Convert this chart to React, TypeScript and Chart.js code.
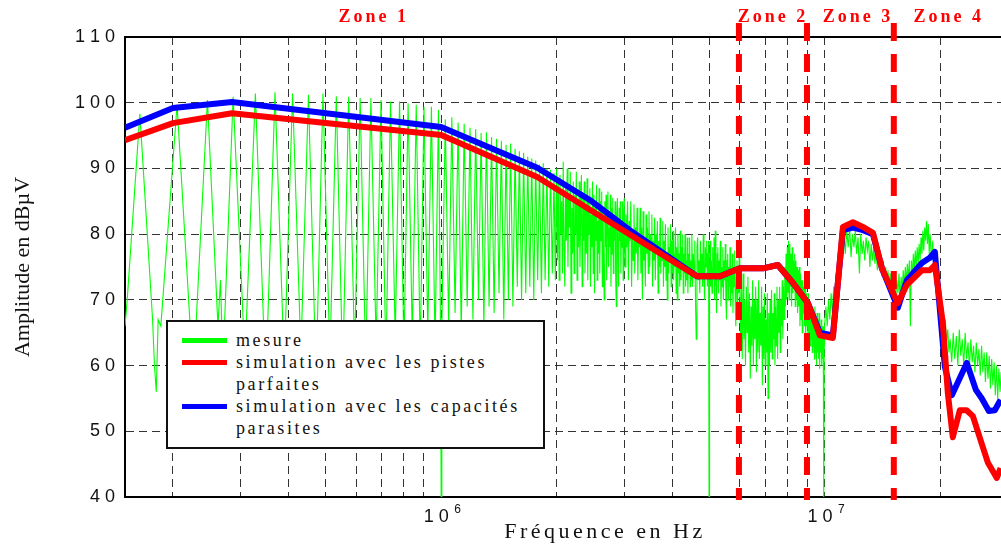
import React, { useEffect, useRef } from 'react';
import { Chart, registerables } from 'chart.js';

Chart.register(...registerables);

// ---------- texts ----------
const seriesNames = [
  'mesure',
  'simulation avec les pistes parfaites',
  'simulation avec les capacités parasites',
];
const legendLines = [
  ['mesure'],
  ['simulation avec les pistes', 'parfaites'],
  ['simulation avec les capacités', 'parasites'],
];
const seriesColors = ['#00ff00', '#ff0000', '#0000ff'];
const xTitle = 'Fréquence en Hz';
const yTitle = 'Amplitude en dBµV';

// ---------- axes ----------
const yMin = 40;
const yMax = 110;
const yStep = 10;
const xMinHz = 150e3;
const xMaxHz = 30e6;
const gridHz = [2e5, 3e5, 4e5, 5e5, 6e5, 7e5, 8e5, 9e5, 1e6, 2e6, 3e6, 4e6, 5e6, 6e6, 7e6, 8e6, 9e6, 1e7, 2e7];
const xLabelHz = [1e6, 1e7];
const xLabelBase = ['1 0  ', '1 0  '];
const xLabelExp = ['6', '7'];

// ---------- zones ----------
const zoneNames = ['Zone 1', 'Zone 2', 'Zone 3', 'Zone 4'];
const zoneLabelHz = [661e3, 7.26e6, 12.08e6, 20.84e6];
const zoneBoundsHz = [5.97e6, 8.98e6, 15.12e6];

// ---------- simulation: pistes parfaites (MHz, dBµV) ----------
const parfaitesMHz = [0.15, 0.2, 0.285, 1.0, 1.78, 4.64, 5.33, 6.0, 6.9, 7.54, 8.25, 9.03, 9.7, 10.49, 11.14, 11.83, 12.56, 13.34, 14.08, 15.49, 16.35, 17.89, 18.77, 19.34, 20.29, 20.91, 21.54, 22.47, 23.4, 24.3, 25.3, 26.6, 28.05, 28.7];
const parfaitesDb = [94.3, 96.9, 98.4, 95.1, 88.7, 73.6, 73.6, 74.8, 74.8, 75.3, 72.6, 69.5, 64.6, 64.2, 81.1, 81.8, 81.1, 80.2, 74.8, 69.5, 72.3, 74.5, 74.5, 75.3, 66.5, 55.8, 49.1, 53.2, 53.2, 52.3, 49.1, 45.2, 42.9, 44.4];

// ---------- simulation: capacités parasites (MHz, dBµV) ----------
const parasitesMHz = [0.15, 0.2, 0.285, 1.0, 1.78, 2.44, 3.1, 4.64, 5.33, 6.0, 6.9, 7.54, 8.25, 9.03, 9.7, 10.49, 11.14, 11.83, 12.56, 13.34, 14.08, 15.49, 16.35, 17.89, 18.77, 19.34, 20.54, 21.42, 23.43, 24.74, 25.64, 26.74, 27.72, 28.7];
const parasitesDb = [96.2, 99.2, 100.1, 96.3, 90.1, 85.2, 80.6, 73.6, 73.6, 74.8, 74.8, 75.3, 72.6, 69.5, 65.0, 64.6, 80.6, 81.0, 80.6, 80.0, 74.8, 68.8, 73.0, 75.6, 76.4, 77.3, 59.8, 55.5, 60.4, 56.3, 55.0, 53.1, 53.2, 54.8];

// ---------- mesure (kHz, dBµV) ----------
const mesure: [number, number][] = [
  // 150 kHz - 1 MHz
  [150, 66], [152, 70], [164, 98.3], [177, 67], [179, 60], [181, 56], [183, 67], [186, 66], [205, 99.7], [226, 58],
  [246, 100.4], [262, 66], [266, 73], [270, 60], [287, 100.9], [308, 61], [328, 101.4], [349, 57], [369, 101.6], [390, 60],
  [410, 101.4], [431, 62], [451, 101.2], [472, 58], [492, 101.4], [513, 61], [533, 101], [554, 59], [574, 100.9], [595, 62],
  [615, 100.7], [636, 60], [656, 100.7], [677, 63], [697, 100.4], [718, 61], [738, 100.2], [759, 64], [779, 100.2], [800, 62],
  [820, 99.9], [841, 64], [861, 99.7], [882, 62], [902, 99.4], [923, 65], [943, 99.4], [964, 63], [984, 98.9], [996, 66],
  [1000, 40], [1004, 66],
  // 1 - 2 MHz
  [1025, 97.5], [1046, 66], [1066, 97.8], [1087, 68], [1107, 97], [1128, 65], [1148, 96.8], [1169, 69], [1189, 96.2], [1210, 67],
  [1230, 96], [1251, 70], [1271, 95.4], [1292, 66], [1312, 95.5], [1333, 69], [1353, 94.8], [1374, 68], [1394, 94.5], [1415, 71],
  [1435, 94.2], [1456, 67], [1476, 93.6], [1497, 70], [1517, 93.8], [1538, 69], [1558, 93], [1579, 72], [1599, 92.6], [1620, 70],
  [1640, 92.4], [1661, 71], [1681, 91.8], [1702, 72], [1722, 91.5], [1743, 70], [1763, 91.2], [1784, 73], [1804, 90.6], [1825, 71],
  [1845, 90.8], [1866, 73], [1886, 90], [1907, 72], [1927, 89.8], [1948, 74], [1968, 89.3], [1984, 73],
  // 2 - 3 MHz
  [2000, 90], [2010, 76], [2020, 88], [2030, 73], [2040, 89], [2050, 80], [2060, 85], [2070, 74], [2080, 91], [2090, 78],
  [2100, 72], [2110, 87], [2120, 79], [2130, 90], [2140, 75], [2150, 86], [2160, 81], [2170, 89.5], [2180, 71], [2190, 84],
  [2200, 77], [2210, 88], [2220, 74], [2230, 86], [2240, 80], [2250, 89.5], [2260, 73], [2270, 85], [2280, 78], [2290, 88],
  [2300, 75], [2310, 83], [2320, 89], [2330, 72], [2340, 86], [2350, 79], [2360, 88], [2370, 74], [2380, 84], [2390, 77],
  [2400, 88.5], [2410, 73], [2420, 85], [2430, 80], [2440, 87], [2450, 72], [2460, 83], [2470, 78], [2480, 88], [2490, 74],
  [2500, 86], [2510, 71], [2520, 84], [2530, 79], [2540, 87.5], [2550, 73], [2560, 82], [2570, 77], [2580, 87], [2590, 74],
  [2600, 85], [2610, 79], [2620, 86.5], [2630, 72], [2640, 84], [2650, 76], [2660, 70], [2670, 85], [2680, 78], [2690, 86],
  [2700, 73], [2710, 83], [2720, 86.5], [2730, 75], [2740, 81], [2750, 78], [2760, 86], [2770, 72], [2780, 84], [2790, 77],
  [2800, 85.5], [2810, 74], [2820, 82], [2830, 79], [2840, 85], [2850, 73], [2860, 69], [2870, 83], [2880, 85.5], [2890, 76],
  [2900, 72], [2910, 84], [2920, 79], [2930, 85], [2940, 74], [2950, 82], [2960, 78], [2970, 85], [2980, 73], [2990, 83],
  // 3 - 4.5 MHz
  [3000, 85.5], [3015, 75], [3030, 83], [3045, 78], [3060, 85], [3075, 73], [3090, 82], [3105, 79], [3120, 85], [3135, 72],
  [3150, 80], [3165, 76], [3180, 84.5], [3195, 74], [3210, 81], [3225, 77], [3240, 84], [3255, 73], [3270, 80], [3285, 78],
  [3300, 84], [3315, 74], [3330, 81], [3345, 70], [3360, 83.5], [3375, 76], [3390, 79], [3405, 72], [3420, 83], [3435, 77],
  [3450, 81], [3465, 74], [3480, 83.5], [3495, 75], [3510, 80], [3525, 78], [3540, 83], [3555, 72], [3570, 79], [3585, 76],
  [3600, 82.5], [3615, 73], [3630, 80], [3645, 77], [3660, 82], [3675, 71], [3690, 79], [3705, 75], [3720, 82.5], [3735, 74],
  [3750, 78], [3765, 76], [3780, 82], [3795, 72], [3810, 79], [3825, 75], [3840, 81.5], [3855, 73], [3870, 77], [3885, 70],
  [3900, 81], [3915, 74], [3930, 78], [3945, 76], [3960, 81.5], [3975, 72], [3990, 79], [4005, 74], [4020, 80.5], [4035, 73],
  [4050, 77], [4065, 75], [4080, 81], [4095, 71], [4110, 78], [4125, 70], [4140, 80], [4155, 74], [4170, 77], [4185, 72],
  [4200, 80.5], [4215, 73], [4230, 78], [4245, 75], [4260, 80], [4275, 71], [4290, 77], [4305, 74], [4320, 80], [4335, 72],
  [4350, 76], [4365, 73], [4380, 79.5], [4395, 71], [4410, 77], [4425, 74], [4440, 79.5], [4455, 72], [4470, 76], [4485, 73],
  // 4.5 - 6 MHz
  [4500, 80], [4520, 72], [4540, 77], [4560, 74], [4580, 79], [4600, 70], [4620, 64], [4640, 78], [4660, 79.5], [4680, 73],
  [4700, 76], [4720, 71], [4740, 79], [4760, 74], [4780, 77], [4800, 72], [4820, 80], [4840, 73], [4860, 70], [4880, 78],
  [4900, 75], [4920, 79], [4940, 72], [4960, 77], [4975, 79], [4990, 40], [5005, 73], [5020, 79], [5040, 72], [5060, 76],
  [5080, 71], [5100, 78], [5120, 74], [5140, 79.5], [5160, 70], [5180, 80.5], [5200, 73], [5220, 68], [5240, 77], [5260, 78],
  [5280, 71], [5300, 76], [5320, 73], [5340, 79], [5360, 69], [5380, 75], [5400, 72], [5420, 78], [5440, 70], [5460, 76],
  [5480, 73], [5500, 78.5], [5520, 70], [5540, 67], [5560, 76], [5580, 77], [5600, 70], [5620, 75], [5640, 72], [5660, 78],
  [5680, 69], [5700, 74], [5720, 71], [5740, 77], [5760, 68], [5780, 75], [5800, 72], [5820, 77.5], [5840, 69], [5860, 66],
  [5880, 75], [5900, 76], [5920, 68], [5940, 74], [5960, 71], [5980, 77],
  // 6 - 10 MHz
  [6000, 73], [6030, 63], [6060, 72], [6090, 61], [6120, 74], [6150, 64], [6180, 70], [6210, 60], [6240, 72], [6270, 65],
  [6300, 73.5], [6330, 62], [6360, 71], [6390, 58], [6420, 69], [6450, 63], [6480, 73], [6510, 60], [6540, 70], [6570, 64],
  [6600, 72], [6630, 59], [6660, 70], [6690, 62], [6720, 73], [6750, 61], [6780, 68], [6810, 63], [6840, 72], [6870, 57],
  [6900, 69], [6930, 61], [6960, 71], [6990, 60], [7020, 67], [7050, 62], [7080, 71], [7110, 55], [7140, 68], [7170, 60],
  [7200, 70], [7230, 62], [7260, 71.5], [7290, 61], [7320, 68], [7350, 64], [7380, 71], [7410, 60], [7440, 69], [7470, 63],
  [7500, 72], [7530, 61], [7560, 70], [7590, 65], [7620, 72], [7650, 62], [7680, 70], [7710, 66], [7740, 73], [7770, 64],
  [7800, 72], [7830, 67], [7860, 75], [7890, 69], [7920, 77], [7950, 70], [7980, 78], [8010, 71], [8040, 79], [8070, 70],
  [8100, 78.5], [8130, 72], [8160, 77], [8190, 69], [8220, 78], [8250, 71], [8280, 76], [8310, 72], [8340, 77], [8370, 69],
  [8400, 76], [8430, 70], [8460, 75], [8490, 68], [8520, 74.5], [8550, 69], [8580, 75], [8610, 66], [8640, 74], [8670, 67],
  [8700, 73], [8730, 65], [8760, 73], [8790, 68], [8820, 72], [8850, 66], [8880, 72], [8910, 64], [8940, 71], [8970, 66],
  [9000, 70], [9030, 64], [9060, 71], [9090, 65], [9120, 70], [9150, 63], [9180, 69], [9210, 64], [9240, 68], [9270, 62],
  [9300, 69], [9330, 63], [9360, 68], [9390, 61], [9420, 69], [9450, 62], [9480, 67], [9510, 60], [9540, 68], [9570, 62],
  [9600, 67], [9630, 61], [9660, 68], [9690, 59.5], [9720, 66], [9750, 62], [9780, 67], [9810, 60], [9840, 66], [9870, 61],
  [9900, 66], [9920, 63], [9940, 40], [9960, 63], [9980, 66],
  // 10 - 11 MHz
  [10060, 69], [10140, 66], [10220, 70], [10300, 67], [10380, 71], [10460, 68], [10540, 72], [10620, 69], [10700, 74], [10780, 72],
  [10860, 77], [10940, 75], [11020, 80],
  // 11 - 16 MHz
  [11100, 78], [11200, 81], [11300, 77], [11400, 80.5], [11500, 78], [11600, 81], [11700, 76.5], [11800, 80], [11900, 78], [12000, 80.5],
  [12100, 77], [12200, 79.5], [12300, 74], [12400, 80], [12500, 77], [12600, 79], [12700, 76], [12800, 79.5], [12900, 77.5], [13000, 79],
  [13100, 75], [13200, 78.5], [13300, 76], [13400, 78], [13500, 75.5], [13600, 77.5], [13700, 74.5], [13800, 77], [13900, 75],
  [14000, 76.5], [14100, 73.5], [14200, 76], [14300, 73], [14400, 75], [14500, 72], [14600, 74.5], [14700, 71.5], [14800, 74], [14900, 71],
  [15000, 73], [15100, 70.5], [15200, 72.5], [15300, 70.5], [15400, 73], [15500, 71], [15600, 74], [15700, 70], [15800, 73.5], [15900, 71.5],
  // 16 - 21 MHz
  [16000, 74.5], [16100, 72], [16200, 75], [16300, 72.5], [16400, 75.5], [16500, 73], [16600, 76], [16700, 66], [16800, 76], [16900, 73.5],
  [17000, 77], [17100, 74.5], [17200, 77.5], [17300, 75], [17400, 78], [17500, 75.5], [17600, 78.5], [17700, 76], [17800, 79.5], [17900, 77],
  [18000, 80.5], [18100, 77.5], [18200, 81], [18300, 79], [18400, 82], [18500, 78.5], [18600, 81.5], [18700, 77], [18800, 80],
  [18950, 76], [19100, 79], [19250, 74], [19400, 76.5], [19550, 72], [19700, 74], [19850, 70],
  [20000, 71], [20150, 67], [20300, 69], [20450, 65], [20600, 67], [20750, 63.5], [20900, 65.5], [21050, 62],
  // 21 - 29 MHz
  [21200, 64], [21400, 60.5], [21600, 65], [21800, 61], [22000, 64.5], [22200, 60], [22400, 65.5], [22600, 61.5], [22800, 64], [23000, 60],
  [23200, 65], [23400, 61], [23600, 63.5], [23800, 59.5], [24000, 64], [24200, 60.5], [24400, 63], [24600, 59], [24800, 63.5], [25000, 60],
  [25200, 62.5], [25400, 58.5], [25600, 63], [25800, 59], [26000, 62], [26200, 57.5], [26400, 62], [26600, 58], [26800, 61.5], [27000, 56.5],
  [27200, 61], [27400, 57], [27600, 60.5], [27800, 55.5], [28000, 60], [28200, 55], [28400, 59.5], [28600, 56], [28800, 59], [29000, 55],
];

const serifFont = '"Liberation Serif", "Times New Roman", serif';
const sansFont = '"Liberation Sans", Arial, sans-serif';

const overlayPlugin = {
  id: 'zonesOverlay',
  afterDatasetsDraw(chart: any) {
    const { ctx, chartArea, scales } = chart;
    const xs = scales.x;
    ctx.save();
    // top frame line
    ctx.strokeStyle = '#000';
    ctx.lineWidth = 2;
    ctx.beginPath();
    ctx.moveTo(chartArea.left, chartArea.top);
    ctx.lineTo(chartArea.right, chartArea.top);
    ctx.stroke();
    // zone boundaries
    ctx.strokeStyle = '#ff0000';
    ctx.lineWidth = 6;
    ctx.setLineDash([18, 13]);
    zoneBoundsHz.forEach((f) => {
      const px = xs.getPixelForValue(f);
      ctx.beginPath();
      ctx.moveTo(px, chartArea.top - 14);
      ctx.lineTo(px, chartArea.bottom + 3);
      ctx.stroke();
    });
    ctx.setLineDash([]);
    // zone labels
    ctx.fillStyle = '#ff0000';
    ctx.font = 'bold 18px ' + serifFont;
    ctx.textAlign = 'center';
    ctx.textBaseline = 'alphabetic';
    (ctx as any).letterSpacing = '3px';
    zoneNames.forEach((name, i) => {
      ctx.fillText(name, xs.getPixelForValue(zoneLabelHz[i]) + 1.5, chartArea.top - 15);
    });
    (ctx as any).letterSpacing = '0px';
    // exponents of the decade labels
    ctx.fillStyle = '#111';
    ctx.font = '12px ' + sansFont;
    ctx.textAlign = 'left';
    xLabelHz.forEach((f, i) => {
      ctx.fillText(xLabelExp[i], xs.getPixelForValue(f) + 13, chartArea.bottom + 16);
    });
    // x axis title
    ctx.font = '22px ' + serifFont;
    ctx.textAlign = 'center';
    (ctx as any).letterSpacing = '3.5px';
    ctx.fillText(xTitle, 605, 538);
    (ctx as any).letterSpacing = '0px';
    ctx.restore();
  },
};

export default function App() {
  const canvasRef = useRef<HTMLCanvasElement | null>(null);

  useEffect(() => {
    const canvas = canvasRef.current;
    if (!canvas) return;
    Chart.defaults.font.family = sansFont;
    Chart.defaults.color = '#111';

    const toPoints = (fs: number[], vs: number[], mult: number) =>
      fs.map((f, i) => ({ x: f * mult, y: vs[i] }));

    const chart = new Chart(canvas, {
      type: 'line',
      data: {
        datasets: [
          {
            label: seriesNames[1],
            data: toPoints(parfaitesMHz, parfaitesDb, 1e6),
            borderColor: seriesColors[1],
            borderWidth: 6,
            pointRadius: 0,
            tension: 0,
            borderJoinStyle: 'round',
            order: 0,
          },
          {
            label: seriesNames[2],
            data: toPoints(parasitesMHz, parasitesDb, 1e6),
            borderColor: seriesColors[2],
            borderWidth: 6,
            pointRadius: 0,
            tension: 0,
            borderJoinStyle: 'round',
            order: 1,
          },
          {
            label: seriesNames[0],
            data: mesure.map(([k, d]) => ({ x: k * 1e3, y: d })),
            borderColor: seriesColors[0],
            borderWidth: 1.1,
            pointRadius: 0,
            tension: 0,
            order: 2,
          },
        ],
      },
      options: {
        animation: false,
        responsive: false,
        events: [],
        layout: { padding: { left: 0, right: 4, top: 37, bottom: 0 } },
        plugins: {
          legend: { display: false },
          tooltip: { enabled: false },
        },
        scales: {
          x: {
            type: 'logarithmic',
            min: xMinHz,
            max: xMaxHz,
            afterBuildTicks: (scale: any) => {
              scale.ticks = gridHz.map((v) => ({ value: v }));
            },
            afterFit: (scale: any) => {
              scale.height = 48;
            },
            ticks: {
              autoSkip: false,
              maxRotation: 0,
              minRotation: 0,
              padding: 9,
              color: '#111',
              font: { size: 18, family: sansFont },
              callback: (value: any) => {
                const idx = xLabelHz.indexOf(Number(value));
                return idx >= 0 ? xLabelBase[idx] : '';
              },
            },
            grid: { color: '#333', lineWidth: 1, drawTicks: false },
            border: { display: true, color: '#000', width: 2, dash: [8, 5] },
          },
          y: {
            type: 'linear',
            min: yMin,
            max: yMax,
            afterFit: (scale: any) => {
              scale.width = 125;
            },
            ticks: {
              stepSize: yStep,
              padding: 10,
              color: '#111',
              font: { size: 18, family: sansFont },
              callback: (value: any) => String(value).split('').join(' '),
            },
            title: {
              display: true,
              text: yTitle,
              color: '#111',
              font: { size: 22, family: serifFont },
              padding: { top: 10, bottom: 0 },
            },
            grid: { color: '#333', lineWidth: 1, drawTicks: false },
            border: { display: true, color: '#000', width: 2, dash: [8, 5] },
          },
        },
      },
      plugins: [overlayPlugin],
    } as any);

    return () => chart.destroy();
  }, []);

  const legendLeft = 166;
  const legendTop = 320;
  let row = 0;

  return (
    <div
      style={{
        position: 'fixed',
        left: 0,
        top: 0,
        width: 1001,
        height: 545,
        overflow: 'hidden',
        background: '#fff',
      }}
    >
      <canvas ref={canvasRef} width={1012} height={545} style={{ display: 'block', width: 1012, height: 545 }} />
      <div
        style={{
          position: 'absolute',
          left: legendLeft,
          top: legendTop,
          width: 379,
          height: 129,
          boxSizing: 'border-box',
          border: '2px solid #111',
          background: '#fff',
          fontFamily: serifFont,
          fontSize: 18,
          letterSpacing: '2.6px',
          color: '#111',
        }}
      >
        {legendLines.map((lines, i) => {
          const startRow = row;
          row += lines.length;
          return (
            <React.Fragment key={i}>
              <div
                style={{
                  position: 'absolute',
                  left: 14,
                  top: 7 + startRow * 22 + 9,
                  width: 45,
                  height: 5,
                  background: seriesColors[i],
                }}
              />
              {lines.map((t, j) => (
                <div
                  key={j}
                  style={{
                    position: 'absolute',
                    left: 68,
                    top: 7 + (startRow + j) * 22,
                    height: 22,
                    lineHeight: '22px',
                    whiteSpace: 'nowrap',
                  }}
                >
                  {t}
                </div>
              ))}
            </React.Fragment>
          );
        })}
      </div>
    </div>
  );
}
